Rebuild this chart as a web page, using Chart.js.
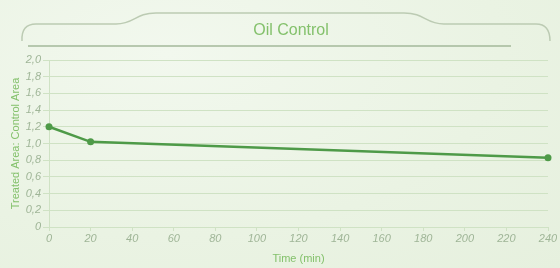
<!DOCTYPE html>
<html>
<head>
<meta charset="utf-8">
<script src="https://cdn.jsdelivr.net/npm/chart.js@4"></script>
<style>
  html,body{margin:0;padding:0;}
  body{width:560px;height:268px;overflow:hidden;
    background:radial-gradient(ellipse at 30% 20%, #f2f8ee 0%, #eaf3e3 60%, #e6f0de 100%);}
  #wrap{position:relative;width:560px;height:268px;}
</style>
</head>
<body>
<div id="wrap"><canvas id="chart" width="560" height="268"></canvas></div>
<script>
// data
const times = [0, 20, 240];
const ratio = [1.2, 1.02, 0.83];
const chartTitle = "Oil Control";
const yTitle = "Treated Area: Control Area";
const xTitle = "Time (min)";

const lineGreen = "#4e9a48";
const gridGreen = "#cfe2c4";
const tickGrey = "#9fb597";
const titleGreen = "#84c16c";
const narrow = "'Liberation Sans Narrow', 'Liberation Sans', sans-serif";

// decorative frame with the heading
const framePlugin = {
  id: "frame",
  beforeDraw(chart){
    const c = chart.ctx;
    c.save();
    c.strokeStyle = "#bccbb3";
    c.lineWidth = 1.5;
    c.beginPath();
    c.moveTo(22, 41);
    c.quadraticCurveTo(21, 24, 36, 24);
    c.lineTo(116, 24);
    c.bezierCurveTo(135, 24, 135, 13, 156, 13);
    c.lineTo(404, 13);
    c.bezierCurveTo(425, 13, 425, 24, 444, 24);
    c.lineTo(536, 24);
    c.quadraticCurveTo(550, 24, 550, 41);
    c.stroke();
    c.strokeStyle = "#a3b89a";
    c.beginPath();
    c.moveTo(28, 46);
    c.lineTo(511, 46);
    c.stroke();
    c.fillStyle = titleGreen;
    c.font = "16px 'Liberation Sans', sans-serif";
    c.textAlign = "center";
    c.textBaseline = "middle";
    c.fillText(chartTitle, 291, 31);
    c.restore();
  }
};

new Chart(document.getElementById("chart"), {
  type: "line",
  data: {
    datasets: [{
      data: times.map((t, i) => ({x: t, y: ratio[i]})),
      borderColor: lineGreen,
      backgroundColor: lineGreen,
      borderWidth: 2.5,
      pointRadius: 3.5,
      pointBorderWidth: 0,
      tension: 0,
      clip: false
    }]
  },
  options: {
    responsive: false,
    animation: false,
    layout: {padding: {left: 0, right: 12, top: 60, bottom: 0}},
    plugins: {legend: {display: false}, tooltip: {enabled: false}},
    scales: {
      x: {
        type: "linear", min: 0, max: 240,
        afterFit(s){ s.height = 41; },
        border: {color: gridGreen, width: 1},
        grid: {drawOnChartArea: false, drawTicks: true, tickLength: 4, color: gridGreen},
        ticks: {stepSize: 20, padding: 1, color: tickGrey,
          font: {family: narrow, size: 11, style: "italic"}},
        title: {display: true, text: xTitle, color: titleGreen, padding: {top: 5, bottom: 2},
          font: {family: narrow, size: 11}}
      },
      y: {
        min: 0, max: 2.0,
        afterFit(s){ s.width = 49; },
        border: {color: gridGreen, width: 1},
        grid: {color: gridGreen, tickLength: 6, lineWidth: 1},
        ticks: {stepSize: 0.2, padding: 2, color: tickGrey,
          font: {family: narrow, size: 11, style: "italic"},
          callback: v => v === 0 ? "0" : v.toFixed(1).replace(".", ",")},
        title: {display: true, text: yTitle, color: titleGreen, padding: {top: 9, bottom: 0},
          font: {family: narrow, size: 11}}
      }
    }
  },
  plugins: [framePlugin]
});
</script>
</body>
</html>
